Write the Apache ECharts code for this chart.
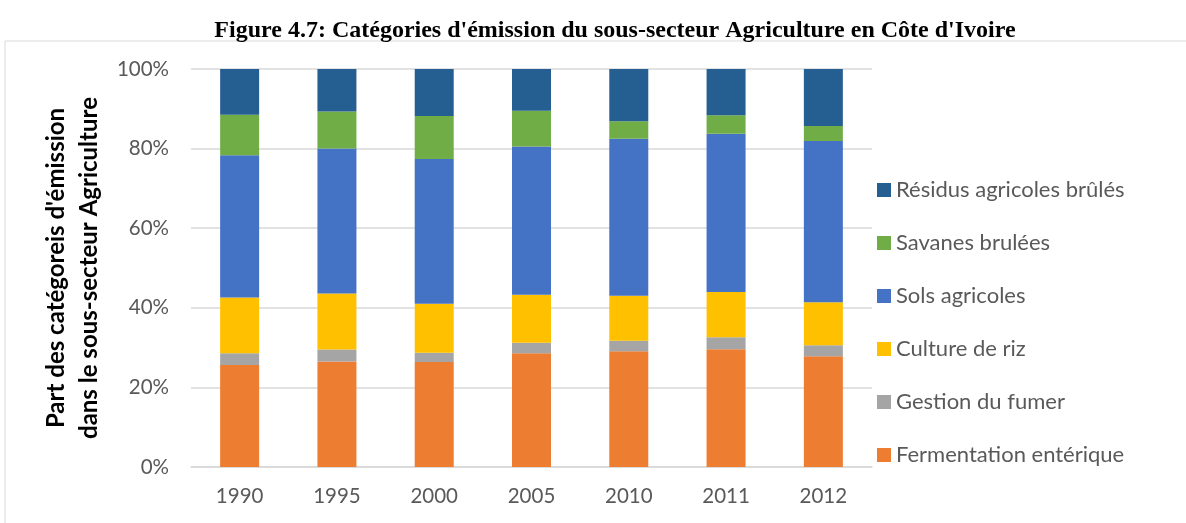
<!DOCTYPE html>
<html>
<head>
<meta charset="utf-8">
<script src="https://cdn.jsdelivr.net/npm/echarts@6/dist/echarts.min.js"></script>
<style>
html,body{margin:0;padding:0;background:#fff;}
#chart{width:1186px;height:523px;}
</style>
</head>
<body>
<div id="chart"></div>
<script>
const categories = ['1990','1995','2000','2005','2010','2011','2012'];
const fermentation = [25.6, 26.5, 26.4, 28.6, 29.1, 29.6, 27.8];
const gestion      = [3.0, 3.0, 2.3, 2.6, 2.6, 3.0, 2.8];
const riz          = [14.0, 14.1, 12.3, 12.1, 11.3, 11.4, 10.8];
const sols         = [35.7, 36.4, 36.4, 37.2, 39.5, 39.7, 40.5];
const savanes      = [10.2, 9.3, 10.8, 9.0, 4.4, 4.7, 3.8];
const residus      = [11.5, 10.7, 11.8, 10.5, 13.1, 11.6, 14.3];
const seriesNames = ['Fermentation entérique','Gestion du fumer','Culture de riz','Sols agricoles','Savanes brulées','Résidus agricoles brûlés'];
const seriesData = [fermentation, gestion, riz, sols, savanes, residus];
const colors = ['#ED7D31','#A5A5A5','#FFC000','#4472C4','#70AD47','#255E91'];

const chart = echarts.init(document.getElementById('chart'), null, {renderer:'canvas'});
const font = 'Lato, "Open Sans", sans-serif';
chart.setOption({
  animation:false,
  title:{
    text:"Figure 4.7: Catégories d'émission du sous-secteur Agriculture en Côte d'Ivoire",
    left:610, top:14, textAlign:'center',
    textStyle:{fontFamily:'"Liberation Serif","Times New Roman",serif',fontWeight:'bold',fontSize:24,color:'#000'}
  },
  graphic:[{type:'rect',shape:{x:5,y:41,width:1300,height:600},style:{fill:'none',stroke:'#d9d9d9',lineWidth:1},z:-1}],
  grid:{left:191,right:314,top:69,bottom:56},
  legend:{
    orient:'vertical', left:872, top:174,
    data:seriesNames.slice().reverse(),
    itemWidth:14, itemHeight:14, itemGap:31, icon:'rect',
    textStyle:{fontFamily:font,fontSize:22,color:'#595959',lineHeight:22}
  },
  xAxis:{
    type:'category', data:categories,
    axisLine:{lineStyle:{color:'#d9d9d9',width:1.5}},
    axisTick:{show:false},
    axisLabel:{fontFamily:font,fontSize:20.5,color:'#595959',margin:19}
  },
  yAxis:{
    type:'value', min:0, max:100, interval:20,
    name:"Part des catégoreis d'émission\ndans le sous-secteur Agriculture",
    nameLocation:'middle', nameGap:78, nameRotate:90,
    nameTextStyle:{fontFamily:font,fontSize:24,fontWeight:'bold',color:'#000',lineHeight:33},
    axisLabel:{formatter:'{value}%',fontFamily:font,fontSize:20.5,color:'#595959',margin:22},
    splitLine:{lineStyle:{color:'#d9d9d9',width:1.5}},
    axisLine:{show:false}, axisTick:{show:false}
  },
  series: seriesNames.map((n,i)=>({
    name:n, type:'bar', stack:'total', barWidth:39,
    data:seriesData[i],
    itemStyle:{color:colors[i]}
  }))
});
</script>
</body>
</html>
